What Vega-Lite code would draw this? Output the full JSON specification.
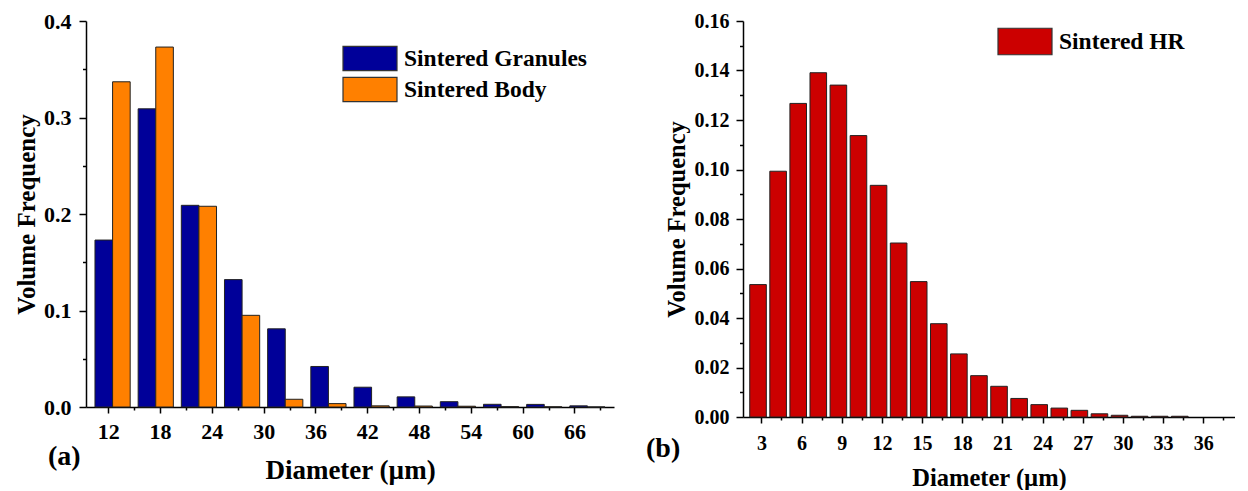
{
  "$schema": "https://vega.github.io/schema/vega-lite/v6.json",
  "background": "white",
  "padding": {"left": 14, "top": 10, "right": 0, "bottom": 0},
  "config": {
    "view": {"stroke": null},
    "font": "Liberation Serif",
    "axis": {"domainColor": "black", "domainWidth": 1.5, "tickColor": "black", "tickWidth": 1.5, "labelFont": "Liberation Serif", "labelFontWeight": "bold", "labelColor": "black", "titleFont": "Liberation Serif", "titleFontWeight": "bold", "titleColor": "black", "grid": false},
    "legend": {"padding": 0, "labelFont": "Liberation Serif", "labelFontWeight": "bold", "labelColor": "black", "labelLimit": 0}
  },
  "spacing": 32,
  "hconcat": [
    {
      "width": 528,
      "height": 386,
      "title": {"text": "(a)", "orient": "bottom", "anchor": "start", "frame": "group", "fontSize": 28, "font": "Liberation Serif", "fontWeight": "bold", "color": "black", "offset": -40, "dx": -38},
      "data": {"values": [
        {"d": 12.5, "s": "Sintered Granules", "f": 0.173}, {"d": 12.5, "s": "Sintered Body", "f": 0.337},
        {"d": 17.5, "s": "Sintered Granules", "f": 0.309}, {"d": 17.5, "s": "Sintered Body", "f": 0.373},
        {"d": 22.5, "s": "Sintered Granules", "f": 0.209}, {"d": 22.5, "s": "Sintered Body", "f": 0.208},
        {"d": 27.5, "s": "Sintered Granules", "f": 0.132}, {"d": 27.5, "s": "Sintered Body", "f": 0.095},
        {"d": 32.5, "s": "Sintered Granules", "f": 0.081}, {"d": 32.5, "s": "Sintered Body", "f": 0.008},
        {"d": 37.5, "s": "Sintered Granules", "f": 0.042}, {"d": 37.5, "s": "Sintered Body", "f": 0.0035},
        {"d": 42.5, "s": "Sintered Granules", "f": 0.0205}, {"d": 42.5, "s": "Sintered Body", "f": 0.0012},
        {"d": 47.5, "s": "Sintered Granules", "f": 0.0105}, {"d": 47.5, "s": "Sintered Body", "f": 0.001},
        {"d": 52.5, "s": "Sintered Granules", "f": 0.0055}, {"d": 52.5, "s": "Sintered Body", "f": 0.0008},
        {"d": 57.5, "s": "Sintered Granules", "f": 0.0028}, {"d": 57.5, "s": "Sintered Body", "f": 0.0004},
        {"d": 62.5, "s": "Sintered Granules", "f": 0.0027}, {"d": 62.5, "s": "Sintered Body", "f": 0.0002},
        {"d": 67.5, "s": "Sintered Granules", "f": 0.0012}, {"d": 67.5, "s": "Sintered Body", "f": 0}
      ]},
      "encoding": {
        "x": {"field": "d", "type": "quantitative", "scale": {"domain": [10, 70], "nice": false, "zero": false},
              "axis": {"title": "Diameter (µm)", "values": [12,15,18,21,24,27,30,33,36,39,42,45,48,51,54,57,60,63,66,69],
                       "labelExpr": "(datum.value - 12) % 6 == 0 ? datum.value : ''",
                       "tickSize": {"condition": {"test": "(datum.value - 12) % 6 == 0", "value": 6}, "value": 3},
                       "labelFontSize": 22, "labelPadding": 8, "titleFontSize": 27, "titlePadding": 15, "labelFlush": false, "labelOverlap": false}},
        "y": {"field": "f", "type": "quantitative", "scale": {"domain": [0, 0.4], "nice": false},
              "axis": {"title": "Volume Frequency", "values": [0,0.05,0.1,0.15,0.2,0.25,0.3,0.35,0.4],
                       "labelExpr": "round(datum.value*100) % 10 == 0 ? format(datum.value, '.1f') : ''",
                       "tickSize": {"condition": {"test": "round(datum.value*100) % 10 == 0", "value": 7}, "value": 3.5},
                       "labelFontSize": 22, "labelPadding": 8, "titleFontSize": 25, "titlePadding": 4, "labelFlush": false, "labelOverlap": false}},
        "color": {"field": "s", "type": "nominal",
                  "scale": {"domain": ["Sintered Granules", "Sintered Body"], "range": ["#000099", "#FF8000"]},
                  "legend": {"title": null, "orient": "none", "legendX": 269.5, "legendY": 23,
                             "symbolType": "M-2,-0.9H2V0.9H-2Z", "symbolSize": 729, "symbolStrokeColor": "#333", "symbolStrokeWidth": 1.2,
                             "symbolOpacity": 1, "labelFontSize": 23.5, "labelOffset": 19.5, "rowPadding": 0}}
      },
      "layer": [
        {"transform": [{"filter": "datum.s == 'Sintered Granules'"}],
         "mark": {"type": "bar", "width": 17.6, "xOffset": -8.8, "stroke": "#222", "strokeWidth": 1, "opacity": 1}},
        {"transform": [{"filter": "datum.s == 'Sintered Body'"}],
         "mark": {"type": "bar", "width": 17.6, "xOffset": 8.8, "stroke": "#222", "strokeWidth": 1, "opacity": 1}}
      ]
    },
    {
      "width": 492,
      "height": 396,
      "title": {"text": "(b)", "orient": "bottom", "anchor": "start", "frame": "group", "fontSize": 28, "font": "Liberation Serif", "fontWeight": "bold", "color": "black", "offset": -55, "dx": -97},
      "data": {"values": [
        {"d": 2.75, "s": "Sintered HR", "f": 0.0535},
        {"d": 4.25, "s": "Sintered HR", "f": 0.0993},
        {"d": 5.75, "s": "Sintered HR", "f": 0.1267},
        {"d": 7.25, "s": "Sintered HR", "f": 0.1391},
        {"d": 8.75, "s": "Sintered HR", "f": 0.1341},
        {"d": 10.25, "s": "Sintered HR", "f": 0.1137},
        {"d": 11.75, "s": "Sintered HR", "f": 0.0936},
        {"d": 13.25, "s": "Sintered HR", "f": 0.0703},
        {"d": 14.75, "s": "Sintered HR", "f": 0.0547},
        {"d": 16.25, "s": "Sintered HR", "f": 0.0377},
        {"d": 17.75, "s": "Sintered HR", "f": 0.0255},
        {"d": 19.25, "s": "Sintered HR", "f": 0.0167},
        {"d": 20.75, "s": "Sintered HR", "f": 0.0124},
        {"d": 22.25, "s": "Sintered HR", "f": 0.0075},
        {"d": 23.75, "s": "Sintered HR", "f": 0.005},
        {"d": 25.25, "s": "Sintered HR", "f": 0.0036},
        {"d": 26.75, "s": "Sintered HR", "f": 0.0027},
        {"d": 28.25, "s": "Sintered HR", "f": 0.0013},
        {"d": 29.75, "s": "Sintered HR", "f": 0.0007},
        {"d": 31.25, "s": "Sintered HR", "f": 0.0003},
        {"d": 32.75, "s": "Sintered HR", "f": 0.0003},
        {"d": 34.25, "s": "Sintered HR", "f": 0.0003}
      ]},
      "mark": {"type": "bar", "width": 16.6, "stroke": "#222", "strokeWidth": 1, "opacity": 1},
      "encoding": {
        "x": {"field": "d", "type": "quantitative", "scale": {"domain": [2, 38], "nice": false, "zero": false},
              "axis": {"title": "Diameter (µm)", "values": [3,4.5,6,7.5,9,10.5,12,13.5,15,16.5,18,19.5,21,22.5,24,25.5,27,28.5,30,31.5,33,34.5,36,37.5],
                       "labelExpr": "datum.value % 3 == 0 ? datum.value : ''",
                       "tickSize": {"condition": {"test": "datum.value % 3 == 0", "value": 6}, "value": 3},
                       "labelFontSize": 20, "labelPadding": 10, "titleFontSize": 24.5, "titlePadding": 13, "labelFlush": false, "labelOverlap": false}},
        "y": {"field": "f", "type": "quantitative", "scale": {"domain": [0, 0.16], "nice": false},
              "axis": {"title": "Volume Frequency", "values": [0,0.01,0.02,0.03,0.04,0.05,0.06,0.07,0.08,0.09,0.1,0.11,0.12,0.13,0.14,0.15,0.16],
                       "labelExpr": "round(datum.value*100) % 2 == 0 ? format(datum.value, '.2f') : ''",
                       "tickSize": {"condition": {"test": "round(datum.value*100) % 2 == 0", "value": 7}, "value": 3.5},
                       "labelFontSize": 20, "labelPadding": 7, "titleFontSize": 24.5, "titlePadding": 5, "labelFlush": false, "labelOverlap": false}},
        "color": {"field": "s", "type": "nominal",
                  "scale": {"domain": ["Sintered HR"], "range": ["#CC0000"]},
                  "legend": {"title": null, "orient": "none", "legendX": 267.5, "legendY": 6,
                             "symbolType": "M-2,-0.98H2V0.98H-2Z", "symbolSize": 729, "symbolStrokeColor": "#333", "symbolStrokeWidth": 1.2,
                             "symbolOpacity": 1, "labelFontSize": 23.5, "labelOffset": 19.5}}
      }
    }
  ],
  "resolve": {"scale": {"color": "independent"}}
}
